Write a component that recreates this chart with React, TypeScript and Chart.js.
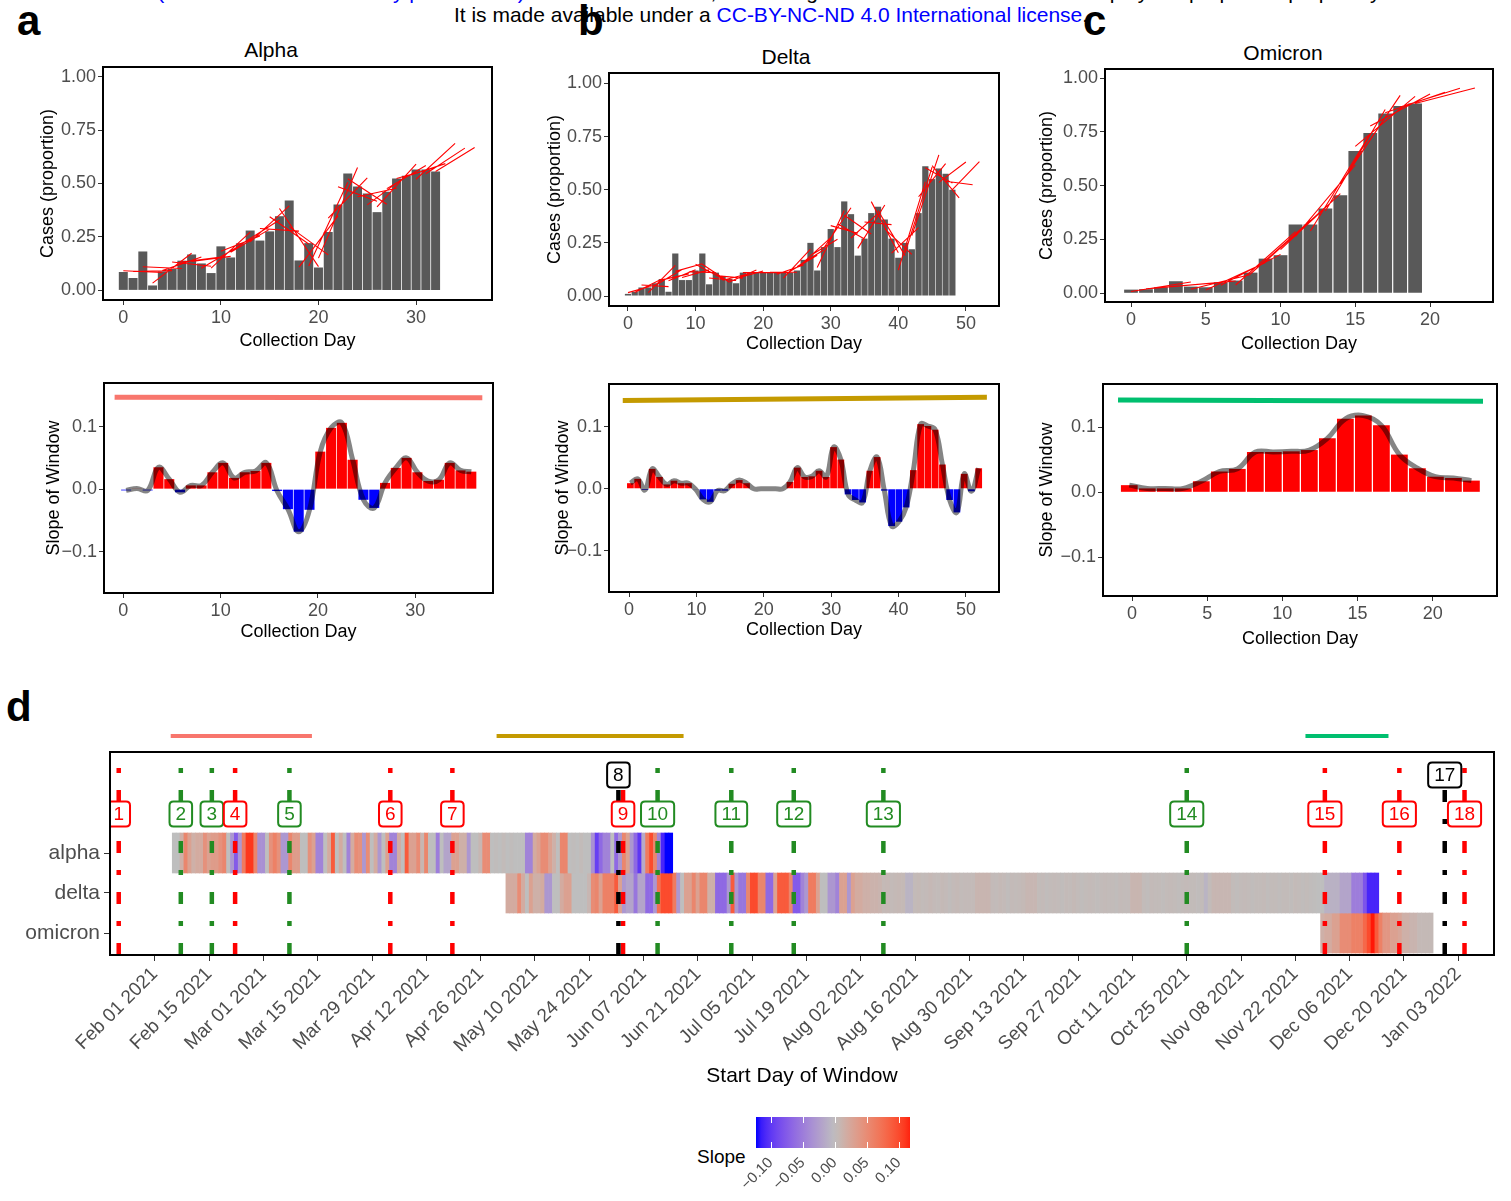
import React, { useEffect, useRef } from "react";
import { Chart, registerables } from "chart.js";

Chart.register(...registerables);

const FONT = "'Liberation Sans', Arial, Helvetica, sans-serif";
const TICK_GRAY = "#4D4D4D";
Chart.defaults.font.family = FONT;

// ---------------- Panels a/b/c (top): daily proportion of cases ----------------
const ALPHA_PROPORTION = [0.086, 0.058, 0.182, 0.023, 0.089, 0.10, 0.139, 0.168, 0.126, 0.081, 0.206, 0.154, 0.22, 0.28, 0.233, 0.276, 0.347, 0.42, 0.14, 0.221, 0.107, 0.273, 0.402, 0.547, 0.486, 0.453, 0.366, 0.461, 0.523, 0.536, 0.565, 0.565, 0.556];
const DELTA_PROPORTION = [0.01, 0.02, 0.04, 0.04, 0.06, 0.08, 0.02, 0.20, 0.075, 0.075, 0.12, 0.20, 0.055, 0.11, 0.09, 0.08, 0.06, 0.11, 0.11, 0.11, 0.11, 0.11, 0.11, 0.11, 0.11, 0.12, 0.17, 0.25, 0.12, 0.23, 0.315, 0.23, 0.445, 0.385, 0.19, 0.27, 0.39, 0.42, 0.36, 0.27, 0.18, 0.25, 0.22, 0.39, 0.61, 0.55, 0.60, 0.575, 0.50];
const OMICRON_PROPORTION = [0.017, 0.019, 0.028, 0.056, 0.031, 0.028, 0.051, 0.059, 0.096, 0.161, 0.177, 0.320, 0.320, 0.394, 0.455, 0.661, 0.745, 0.835, 0.870, 0.882];

// ---------------- Panels a/b/c (bottom): slope of each window ----------------
const ALPHA_SLOPE = [-0.002, 0.001, -0.002, 0.035, 0.016, -0.005, 0.006, 0.006, 0.027, 0.042, 0.018, 0.027, 0.029, 0.042, -0.003, -0.032, -0.068, -0.033, 0.060, 0.098, 0.106, 0.047, -0.017, -0.030, 0.010, 0.034, 0.050, 0.027, 0.013, 0.015, 0.042, 0.030, 0.028];
const DELTA_SLOPE = [0.009, 0.016, -0.002, 0.032, 0.019, 0.007, 0.013, 0.009, 0.009, -0.001, -0.017, -0.021, -0.003, -0.003, 0.008, 0.014, 0.009, 0, 0, 0, 0, 0, 0.011, 0.034, 0.019, 0.020, 0.029, 0.019, 0.067, 0.047, -0.009, -0.018, -0.022, 0.029, 0.051, -0.003, -0.060, -0.053, -0.030, 0.030, 0.104, 0.101, 0.095, 0.039, -0.018, -0.038, 0.024, -0.004, 0.033];
const OMICRON_SLOPE = [0.011, 0.006, 0.006, 0.006, 0.017, 0.032, 0.036, 0.062, 0.062, 0.063, 0.065, 0.083, 0.113, 0.118, 0.103, 0.058, 0.037, 0.024, 0.022, 0.018];

// variant period bars (day range and level) shown on the slope panels
const ALPHA_SPAN_X = [-0.9, 36.9];
const ALPHA_SPAN_Y = [0.147, 0.146];
const DELTA_SPAN_X = [-0.93, 53.1];
const DELTA_SPAN_Y = [0.142, 0.147];
const OMICRON_SPAN_X = [-0.93, 23.35];
const OMICRON_SPAN_Y = [0.142, 0.140];

const PROP_Y_TICKS = [0, 0.25, 0.5, 0.75, 1];
const SLOPE_Y_TICKS = [-0.1, 0, 0.1];
const ALPHA_X_TICKS = [0, 10, 20, 30];
const DELTA_X_TICKS = [0, 10, 20, 30, 40, 50];
const OMICRON_X_TICKS = [0, 5, 10, 15, 20];

// ---------------- Panel d: heatmap of slopes by start day (days since Feb 01 2021) ----------------
const ROW_LABELS = ["omicron", "delta", "alpha"];
const ALPHA_HEAT_START = 5;
const DELTA_HEAT_START = 91;
const OMICRON_HEAT_START = 301;
const ALPHA_HEAT = [
  0, 0, 0.015, 0.055, 0.03, 0.015, 0.02, 0.02, 0.045, 0.03,
  0.035, 0.035, 0.045, 0.055, 0, -0.03, -0.075, -0.03, 0.065, 0.11,
  0.11, 0.055, -0.035, -0.035, 0, 0.045, 0.06, 0.045, -0.03, -0.03,
  0.055, 0.035, 0.035, 0, 0, 0.045, 0.03, -0.045, -0.045, 0,
  0.02, 0.09, 0, 0.02, 0, -0.045, 0.02, 0.05, 0.045, -0.03,
  0.05, 0, 0.02, -0.03, 0, 0.03, -0.045, -0.045, 0.02, 0,
  0.09, 0.03, 0.03, 0.05, 0.008, 0.055, 0, 0, -0.05, 0,
  -0.02, -0.02, 0.03, 0.03, 0.015, 0.015, -0.03, 0, 0, 0.008,
  0.05, 0.05, 0, 0.002, 0, 0.003, 0, 0.002, 0, 0,
  0, -0.045, -0.045, 0.02, 0.03, 0.05, 0.05, 0.03, 0.015, 0,
  0.055, 0.055, 0, 0.002, 0, 0.003, 0, 0, -0.035, -0.095,
  -0.065, -0.045, -0.045, 0, -0.065, -0.03, 0.055, 0.03, -0.03, -0.065,
  -0.1, -0.015, 0.065, 0.1, 0.055, -0.045, -0.11, -0.123, -0.123,
];
const DELTA_HEAT = [
  0.02, 0.02, 0.02, 0.05, 0.02, 0, 0.03, 0.015, 0.015, 0.02,
  -0.03, -0.03, 0, 0, 0.02, 0.03, 0.03, 0, 0, 0,
  0, 0.008, 0.05, 0.055, 0.03, 0.06, 0.06, 0.06, 0.09, 0.03,
  -0.03, -0.02, -0.02, -0.055, -0.02, -0.02, -0.065, -0.065, -0.03, 0.075,
  0.1, 0.1, 0.1, 0.065, -0.03, 0, 0.03, 0.03, 0.055, 0.03,
  0.055, 0.055, 0.015, 0.015, -0.065, -0.065, -0.065, -0.03, 0.09, -0.03,
  -0.055, -0.055, 0.055, 0.1, 0.1, 0.055, 0.055, -0.065, -0.065, 0.03,
  0.09, 0.09, 0.09, 0.055, -0.075, -0.075, -0.045, -0.03, 0.065, 0.065,
  0.03, 0, 0, -0.03, -0.03, -0.045, 0.03, 0.03, -0.03, 0.03,
  0.02, 0.02, 0.015, 0.015, 0.012, 0.012, 0.01, 0.005, 0.006, 0.004,
  0.005, 0.006, 0.005, -0.008, -0.008, 0.004, 0.005, 0.003, 0.004, 0.006,
  0.004, 0.003, 0.005, 0.004, 0.002, 0.004, 0.005, 0.003, 0.004, 0.004,
  0.004, 0.009, 0.009, 0.009, 0.009, 0.004, 0.003, 0.005, 0.004, 0.002,
  0.004, 0.003, 0.004, 0.005, 0.008, 0.008, 0.008, 0.003, 0.004, 0.002,
  0.003, 0.004, 0.003, 0.002, 0.004, 0.003, 0.005, 0.003, 0.002, 0.003,
  0.004, 0.003, 0.002, 0.003, 0.004, 0.003, 0.003, 0.002, 0.004, 0.003,
  0.003, 0.009, 0.009, 0.009, 0.003, 0.002, 0.004, 0.003, 0.003, 0.002,
  0.003, 0.004, 0.003, 0.002, 0.003, 0.004, 0.003, 0.003, 0.002, 0.003,
  -0.008, 0.003, 0.008, 0.008, 0.008, 0.008, 0.008, 0.003, 0.002, 0.003,
  0.004, 0.003, 0.002, 0.003, 0.003, 0.004, 0.002, 0.003, 0.003, 0.002,
  0.003, 0.003, 0.002, 0.004, 0.003, 0.002, 0.003, 0.002, 0.001, 0.0,
  0.0, -0.01, -0.01, -0.01, -0.01, -0.02, -0.02, -0.02, -0.05, -0.05,
  -0.05, -0.08, -0.11, -0.11, -0.11,
];
const OMICRON_HEAT = [0.015, 0.02, 0.02, 0.03, 0.03, 0.05, 0.05, 0.05, 0.06, 0.06, 0.06, 0.08, 0.1, 0.12, 0.09, 0.06, 0.04, 0.04, 0.03, 0.03, 0.025, 0.015, 0.015, 0.01, 0.01, 0.005, 0.005, 0.005, 0.005];

const DATE_TICK_DAYS = [0, 14, 28, 42, 56, 70, 84, 98, 112, 126, 140, 154, 168, 182, 196, 210, 224, 238, 252, 266, 280, 294, 308, 322, 336];
const DATE_TICK_LABELS = ["Feb 01 2021", "Feb 15 2021", "Mar 01 2021", "Mar 15 2021", "Mar 29 2021", "Apr 12 2021", "Apr 26 2021", "May 10 2021", "May 24 2021", "Jun 07 2021", "Jun 21 2021", "Jul 05 2021", "Jul 19 2021", "Aug 02 2021", "Aug 16 2021", "Aug 30 2021", "Sep 13 2021", "Sep 27 2021", "Oct 11 2021", "Oct 25 2021", "Nov 08 2021", "Nov 22 2021", "Dec 06 2021", "Dec 20 2021", "Jan 03 2022"];

const EVENT_LABELS = ["1", "2", "3", "4", "5", "6", "7", "8", "9", "10", "11", "12", "13", "14", "15", "16", "17", "18"];
const EVENT_DAYS = [-9.3, 6.7, 14.7, 20.7, 34.7, 60.7, 76.7, 119.5, 120.7, 129.6, 148.6, 164.7, 187.8, 266, 301.6, 320.8, 332.5, 337.6];
const EVENT_COLORS = ["#FF0000", "#228B22", "#228B22", "#FF0000", "#228B22", "#FF0000", "#FF0000", "#000000", "#FF0000", "#228B22", "#228B22", "#228B22", "#228B22", "#228B22", "#FF0000", "#FF0000", "#000000", "#FF0000"];
const EVENT_LABEL_LEVEL = [2.975, 2.975, 2.975, 2.975, 2.975, 2.975, 2.975, 3.95, 2.975, 2.975, 2.975, 2.975, 2.975, 2.975, 2.975, 2.975, 3.95, 2.975];

const VARIANT_SPAN_DAYS = [[4.1, 40.5], [88.1, 136.3], [296.6, 318.0]];
const VARIANT_COLORS = ["#F8766D", "#C49A00", "#00BF6F"];

const LEGEND_TICKS = [-0.1, -0.05, 0, 0.05, 0.1];

// ---------------- colour scale (blue - grey - red, Lab interpolation) ----------------
const SLOPE_LIMIT = 0.123;
function toLin(c: number) { c /= 255; return c <= 0.04045 ? c / 12.92 : Math.pow((c + 0.055) / 1.055, 2.4); }
function fromLin(c: number) { const v = c <= 0.0031308 ? 12.92 * c : 1.055 * Math.pow(c, 1 / 2.4) - 0.055; return Math.round(Math.max(0, Math.min(1, v)) * 255); }
function rgbToLab(rgb: number[]) {
  const R = toLin(rgb[0]), G = toLin(rgb[1]), B = toLin(rgb[2]);
  const X = (0.4124 * R + 0.3576 * G + 0.1805 * B) / 0.95047;
  const Y = 0.2126 * R + 0.7152 * G + 0.0722 * B;
  const Z = (0.0193 * R + 0.1192 * G + 0.9505 * B) / 1.08883;
  const f = (t: number) => (t > 0.008856 ? Math.cbrt(t) : 7.787 * t + 16 / 116);
  const fx = f(X), fy = f(Y), fz = f(Z);
  return [116 * fy - 16, 500 * (fx - fy), 200 * (fy - fz)];
}
function labToRgb(lab: number[]) {
  const fy = (lab[0] + 16) / 116, fx = fy + lab[1] / 500, fz = fy - lab[2] / 200;
  const inv = (t: number) => (t * t * t > 0.008856 ? t * t * t : (t - 16 / 116) / 7.787);
  const X = inv(fx) * 0.95047, Y = inv(fy), Z = inv(fz) * 1.08883;
  return [
    fromLin(3.2406 * X - 1.5372 * Y - 0.4986 * Z),
    fromLin(-0.9689 * X + 1.8758 * Y + 0.0415 * Z),
    fromLin(0.0557 * X - 0.204 * Y + 1.057 * Z),
  ];
}
const LAB_LOW = rgbToLab([0, 0, 255]);
const LAB_MID = rgbToLab([190, 190, 190]);
const LAB_HIGH = rgbToLab([255, 0, 0]);
function heatColor(v: number) {
  const t = Math.max(-1, Math.min(1, v / SLOPE_LIMIT));
  const end = t < 0 ? LAB_LOW : LAB_HIGH;
  const a = Math.abs(t);
  const lab = [0, 1, 2].map((i) => LAB_MID[i] + (end[i] - LAB_MID[i]) * a);
  const c = labToRgb(lab);
  return `rgb(${c[0]},${c[1]},${c[2]})`;
}

// ---------------- helpers ----------------
// Each window's regression line: slope from the window's slope value, passing
// through the mean of the window's data, drawn over the 5-day window.
function windowLines(vals: number[], slopes: number[]) {
  const out: any[] = [];
  const n = vals.length;
  for (let s = 0; s < n; s++) {
    const idx: number[] = [];
    for (let i = s; i <= s + 4 && i < n; i++) idx.push(i);
    const mx = idx.reduce((a, i) => a + i, 0) / idx.length;
    const my = idx.reduce((a, i) => a + vals[i], 0) / idx.length;
    const b = slopes[s];
    out.push({ x: s, y: my + b * (s - mx) }, { x: s + 4, y: my + b * (s + 4 - mx) }, { x: s + 4, y: null });
  }
  return out;
}

const panelBorder = {
  id: "panelBorder",
  afterDraw(chart: any) {
    const { ctx, chartArea: a } = chart;
    ctx.save();
    ctx.strokeStyle = "#000";
    ctx.lineWidth = 2;
    ctx.strokeRect(a.left, a.top, a.right - a.left, a.bottom - a.top);
    ctx.restore();
  },
};

function baseOptions() {
  return {
    responsive: false,
    animation: false,
    devicePixelRatio: 1,
    events: [],
    plugins: { legend: { display: false }, tooltip: { enabled: false }, title: { display: false } },
  };
}

const setTicks = (vals: number[]) => (s: any) => { s.ticks = vals.map((v) => ({ value: v })); };

function xAxis(min: number, max: number, ticks: number[], title: string, height: number, fmt: any, opts: any = {}) {
  const fs = opts.fontSize || 18;
  const ts = opts.titleSize || 18;
  return {
    type: "linear",
    position: "bottom",
    min, max,
    offset: false,
    afterBuildTicks: setTicks(ticks),
    afterFit: (s: any) => { s.height = height; },
    grid: { display: true, drawOnChartArea: false, drawTicks: true, tickLength: opts.tickLength || 5, color: "#333333", lineWidth: 1, offset: false },
    border: { display: false },
    ticks: {
      font: { family: FONT, size: fs }, color: TICK_GRAY, padding: opts.padding ?? 2,
      autoSkip: false, minRotation: opts.rotation || 0, maxRotation: opts.rotation || 0,
      callback: fmt,
    },
    title: { display: true, text: title, font: { family: FONT, size: ts }, color: "#000", padding: 0 },
  };
}

function yAxis(min: number, max: number, ticks: number[], title: string | null, width: number, fmt: any, opts: any = {}) {
  return {
    type: "linear",
    position: "left",
    min, max,
    afterBuildTicks: setTicks(ticks),
    afterFit: (s: any) => { s.width = width; },
    grid: { display: true, drawOnChartArea: false, drawTicks: true, tickLength: opts.tickLength || 5, color: "#333333", lineWidth: 1 },
    border: { display: false },
    ticks: { font: { family: FONT, size: opts.fontSize || 18 }, color: TICK_GRAY, padding: opts.padding ?? 2, autoSkip: false, callback: fmt },
    title: title ? { display: true, text: title, font: { family: FONT, size: 18 }, color: "#000", padding: 0 } : { display: false },
  };
}

const fmtInt = (v: any) => String(v);
const fmtProp = (v: any) => Number(v).toFixed(2);
const fmtSlope = (v: any) => (v === 0 ? "0.0" : (v < 0 ? "\u2212" : "") + Math.abs(v).toFixed(1));
const fmtLegend = (v: any) => (v === 0 ? "0.00" : (v < 0 ? "\u2212" : "") + Math.abs(v).toFixed(2));

function proportionChart(values: number[], slopes: number[], xr: number[], yr: number[], xTicks: number[], yAxisW: number, xAxisH: number) {
  return {
    type: "bar",
    data: {
      datasets: [
        { type: "line", data: windowLines(values, slopes), borderColor: "#FF0000", borderWidth: 1.1, pointRadius: 0, spanGaps: false, order: 0 },
        { type: "bar", data: values.map((v, i) => ({ x: i, y: v })), backgroundColor: "#595959", barPercentage: 0.92, categoryPercentage: 1, grouped: false, order: 1 },
      ],
    },
    options: {
      ...baseOptions(),
      layout: { padding: { top: 14, right: 6, bottom: 3, left: 0 } },
      scales: {
        x: xAxis(xr[0], xr[1], xTicks, "Collection Day", xAxisH, fmtInt),
        y: yAxis(yr[0], yr[1], PROP_Y_TICKS, "Cases (proportion)", yAxisW, fmtProp),
      },
    },
    plugins: [panelBorder],
  };
}

function slopeChart(slopes: number[], xr: number[], xi: number[], yr: number[], xTicks: number[], spanX: number[], spanY: number[], spanColor: string, yAxisW: number, xAxisH: number) {
  const pts = slopes.map((v, i) => ({ x: i, y: v }));
  return {
    type: "bar",
    data: {
      datasets: [
        { type: "line", xAxisID: "x", data: [{ x: spanX[0], y: spanY[0] }, { x: spanX[1], y: spanY[1] }], borderColor: spanColor, borderWidth: 5, pointRadius: 0, order: 0 },
        { type: "line", xAxisID: "xi", data: pts, borderColor: "rgba(0,0,0,0.48)", borderWidth: 5, pointRadius: 0, tension: 0.4, order: 0 },
        { type: "bar", xAxisID: "xi", data: pts, backgroundColor: slopes.map((v) => (v >= 0 ? "#FF0000" : "#0000FF")), barPercentage: 0.93, categoryPercentage: 1, grouped: false, order: 1 },
      ],
    },
    options: {
      ...baseOptions(),
      layout: { padding: { top: 14, right: 6, bottom: 3, left: 0 } },
      scales: {
        x: xAxis(xr[0], xr[1], xTicks, "Collection Day", xAxisH, fmtInt),
        xi: { type: "linear", position: "bottom", display: false, min: xi[0], max: xi[1], offset: false, grid: { offset: false }, afterBuildTicks: setTicks([0]) },
        y: yAxis(yr[0], yr[1], SLOPE_Y_TICKS, "Slope of Window", yAxisW, fmtSlope),
      },
    },
    plugins: [panelBorder],
  };
}

// ---------------- panel d ----------------
const D_X_RANGE = [-11.55, 345.2];
const D_Y_RANGE = [-0.55, 4.525];
const D_SPAN_LEVEL = 4.925;

const eventLabelPlugin = {
  id: "eventLabels",
  afterDatasetsDraw(chart: any) {
    const { ctx, chartArea: a, scales } = chart;
    const x = scales.x, y = scales.y;
    ctx.save();
    ctx.beginPath();
    ctx.rect(a.left, a.top, a.right - a.left, a.bottom - a.top);
    ctx.clip();
    ctx.font = `19px ${FONT}`;
    ctx.textAlign = "center";
    ctx.textBaseline = "middle";
    EVENT_DAYS.forEach((d, i) => {
      const px = x.getPixelForValue(d);
      const py = y.getPixelForValue(EVENT_LABEL_LEVEL[i]);
      const text = EVENT_LABELS[i];
      const w = ctx.measureText(text).width + 12;
      const h = 25;
      const l = px - w / 2, t = py - h / 2, r = 4;
      ctx.beginPath();
      ctx.moveTo(l + r, t);
      ctx.lineTo(l + w - r, t);
      ctx.quadraticCurveTo(l + w, t, l + w, t + r);
      ctx.lineTo(l + w, t + h - r);
      ctx.quadraticCurveTo(l + w, t + h, l + w - r, t + h);
      ctx.lineTo(l + r, t + h);
      ctx.quadraticCurveTo(l, t + h, l, t + h - r);
      ctx.lineTo(l, t + r);
      ctx.quadraticCurveTo(l, t, l + r, t);
      ctx.closePath();
      ctx.fillStyle = "#FFFFFF";
      ctx.fill();
      ctx.lineWidth = 2;
      ctx.strokeStyle = EVENT_COLORS[i];
      ctx.stroke();
      ctx.fillStyle = EVENT_COLORS[i];
      ctx.fillText(text, px, py + 1);
    });
    ctx.restore();
  },
};

function heatDataset(values: number[], start: number, row: number) {
  return {
    type: "bar",
    data: values.map((v, k) => ({ x: start + k, y: [row - 0.5, row + 0.5] })),
    backgroundColor: values.map(heatColor),
    borderWidth: 0,
    barPercentage: 1,
    categoryPercentage: 1,
    grouped: false,
    order: 2,
  };
}

function heatmapChart() {
  const eventLines = EVENT_DAYS.map((d, i) => ({
    type: "line",
    data: [{ x: d, y: D_Y_RANGE[0] }, { x: d, y: D_Y_RANGE[1] }],
    borderColor: EVENT_COLORS[i],
    borderWidth: 4.5,
    borderDash: [12, 17, 5, 17],
    pointRadius: 0,
    order: 1,
  }));
  const spans = VARIANT_SPAN_DAYS.map((r, i) => ({
    type: "line",
    data: [{ x: r[0], y: D_SPAN_LEVEL }, { x: r[1], y: D_SPAN_LEVEL }],
    borderColor: VARIANT_COLORS[i],
    borderWidth: 4,
    pointRadius: 0,
    clip: false,
    order: 0,
  }));
  return {
    type: "bar",
    data: {
      datasets: [
        heatDataset(ALPHA_HEAT, ALPHA_HEAT_START, 2),
        heatDataset(DELTA_HEAT, DELTA_HEAT_START, 1),
        heatDataset(OMICRON_HEAT, OMICRON_HEAT_START, 0),
        ...eventLines,
        ...spans,
      ],
    },
    options: {
      ...baseOptions(),
      layout: { padding: { top: 40, right: 10, bottom: 3, left: 0 } },
      scales: {
        x: xAxis(D_X_RANGE[0], D_X_RANGE[1], DATE_TICK_DAYS, "Start Day of Window", 134,
          (v: any, i: number) => DATE_TICK_LABELS[i],
          { fontSize: 19, titleSize: 21, rotation: 45, tickLength: 6, padding: 2 }),
        y: yAxis(D_Y_RANGE[0], D_Y_RANGE[1], [0, 1, 2], null, 110, (v: any) => ROW_LABELS[v], { fontSize: 21, tickLength: 6, padding: 4 }),
      },
    },
    plugins: [eventLabelPlugin, panelBorder],
  };
}

const colorbarPlugin = {
  id: "colorbar",
  beforeDatasetsDraw(chart: any) {
    const { ctx, chartArea: a, scales } = chart;
    const x = scales.x;
    const g = ctx.createLinearGradient(a.left, 0, a.right, 0);
    const steps = 30;
    for (let i = 0; i <= steps; i++) {
      const v = x.min + ((x.max - x.min) * i) / steps;
      g.addColorStop(i / steps, heatColor(v));
    }
    ctx.save();
    ctx.fillStyle = g;
    ctx.fillRect(a.left, a.top, a.right - a.left, a.bottom - a.top);
    ctx.strokeStyle = "#FFFFFF";
    ctx.lineWidth = 1;
    LEGEND_TICKS.forEach((v) => {
      const px = Math.round(x.getPixelForValue(v)) + 0.5;
      ctx.beginPath();
      ctx.moveTo(px, a.top);
      ctx.lineTo(px, a.top + 6);
      ctx.moveTo(px, a.bottom - 6);
      ctx.lineTo(px, a.bottom);
      ctx.stroke();
    });
    ctx.restore();
  },
};

function legendChart() {
  return {
    type: "bar",
    data: { datasets: [] },
    options: {
      ...baseOptions(),
      layout: { padding: { top: 17, right: 20, bottom: 3, left: 66 } },
      scales: {
        x: {
          type: "linear", position: "bottom", min: -SLOPE_LIMIT, max: 0.1175, offset: false,
          afterBuildTicks: setTicks(LEGEND_TICKS),
          afterFit: (s: any) => { s.height = 48; },
          grid: { display: false, drawTicks: false, offset: false },
          border: { display: false },
          ticks: { font: { family: FONT, size: 15 }, color: TICK_GRAY, padding: 6, minRotation: 45, maxRotation: 45, autoSkip: false, callback: fmtLegend },
        },
        y: { type: "linear", display: false, min: 0, max: 1 },
      },
    },
    plugins: [colorbarPlugin],
  };
}

// ---------------- components ----------------
function ChartCanvas({ left, top, width, height, build }: any) {
  const ref = useRef<HTMLCanvasElement | null>(null);
  useEffect(() => {
    if (!ref.current) return;
    const chart = new Chart(ref.current, build());
    return () => chart.destroy();
  }, []);
  return (
    <canvas
      ref={ref}
      width={width}
      height={height}
      style={{ position: "absolute", left, top, width, height, display: "block" }}
    />
  );
}

const textStyle = (left: number, top: number, size: number, extra: any = {}) => ({
  position: "absolute" as const,
  left,
  top,
  fontSize: size,
  lineHeight: `${Math.round(size * 1.15)}px`,
  fontFamily: FONT,
  whiteSpace: "nowrap" as const,
  color: "#000",
  ...extra,
});

export default function App() {
  return (
    <div style={{ position: "absolute", left: 0, top: 0, width: 1511, height: 1201, background: "#fff", overflow: "hidden", fontFamily: FONT }}>
      {/* preprint header */}
      <div style={{ ...textStyle(0, -20, 21), width: 1542, textAlign: "center", lineHeight: "24px" }}>
        <span style={{ color: "#0000FF" }}>(which was not certified by peer review)</span> is the author/funder, who has granted medRxiv a license to display the preprint in perpetuity.
      </div>
      <div style={{ ...textStyle(0, 3, 21), width: 1542, textAlign: "center", lineHeight: "24px" }}>
        It is made available under a <span style={{ color: "#0000FF" }}>CC-BY-NC-ND 4.0 International license</span>.
      </div>

      {/* panel letters */}
      <div style={{ ...textStyle(17, 0, 42, { fontWeight: "bold", lineHeight: "42px" }) }}>a</div>
      <div style={{ ...textStyle(578, 0, 42, { fontWeight: "bold", lineHeight: "42px" }) }}>b</div>
      <div style={{ ...textStyle(1083, 0, 42, { fontWeight: "bold", lineHeight: "42px" }) }}>c</div>
      <div style={{ ...textStyle(6, 686, 42, { fontWeight: "bold", lineHeight: "42px" }) }}>d</div>

      {/* panel titles */}
      <div style={{ ...textStyle(171, 38, 21, { width: 200, textAlign: "center", lineHeight: "24px" }) }}>Alpha</div>
      <div style={{ ...textStyle(686, 45, 21, { width: 200, textAlign: "center", lineHeight: "24px" }) }}>Delta</div>
      <div style={{ ...textStyle(1183, 41, 21, { width: 200, textAlign: "center", lineHeight: "24px" }) }}>Omicron</div>

      {/* top row */}
      <ChartCanvas left={37} top={53} width={461} height={302}
        build={() => proportionChart(ALPHA_PROPORTION, ALPHA_SLOPE, [-2.08, 37.78], [-0.045, 1.045], ALPHA_X_TICKS, 66, 52)} />
      <ChartCanvas left={544} top={59} width={461} height={299}
        build={() => proportionChart(DELTA_PROPORTION, DELTA_SLOPE, [-2.81, 54.9], [-0.047, 1.049], DELTA_X_TICKS, 65, 49)} />
      <ChartCanvas left={1036} top={55} width={463} height={303}
        build={() => proportionChart(OMICRON_PROPORTION, OMICRON_SLOPE, [-1.74, 24.21], [-0.0405, 1.042], OMICRON_X_TICKS, 69, 53)} />

      {/* slope row */}
      <ChartCanvas left={43} top={369} width={456} height={277}
        build={() => slopeChart(ALPHA_SLOPE, [-1.99, 38.0], [-2.05, 34.01], [-0.166, 0.1697], ALPHA_X_TICKS, ALPHA_SPAN_X, ALPHA_SPAN_Y, VARIANT_COLORS[0], 61, 50)} />
      <ChartCanvas left={552} top={370} width={453} height={274}
        build={() => slopeChart(DELTA_SLOPE, [-2.97, 54.9], [-2.95, 50.8], [-0.166, 0.1685], DELTA_X_TICKS, DELTA_SPAN_X, DELTA_SPAN_Y, VARIANT_COLORS[1], 57, 49)} />
      <ChartCanvas left={1036} top={370} width={467} height={283}
        build={() => slopeChart(OMICRON_SLOPE, [-1.93, 24.28], [-1.46, 20.42], [-0.1595, 0.1666], OMICRON_X_TICKS, OMICRON_SPAN_X, OMICRON_SPAN_Y, VARIANT_COLORS[2], 67, 54)} />

      {/* panel d */}
      <ChartCanvas left={0} top={712} width={1504} height={380} build={heatmapChart} />

      {/* colour legend */}
      <div style={{ ...textStyle(697, 1146, 19, { lineHeight: "22px" }) }}>Slope</div>
      <ChartCanvas left={690} top={1100} width={240} height={99} build={legendChart} />
    </div>
  );
}
